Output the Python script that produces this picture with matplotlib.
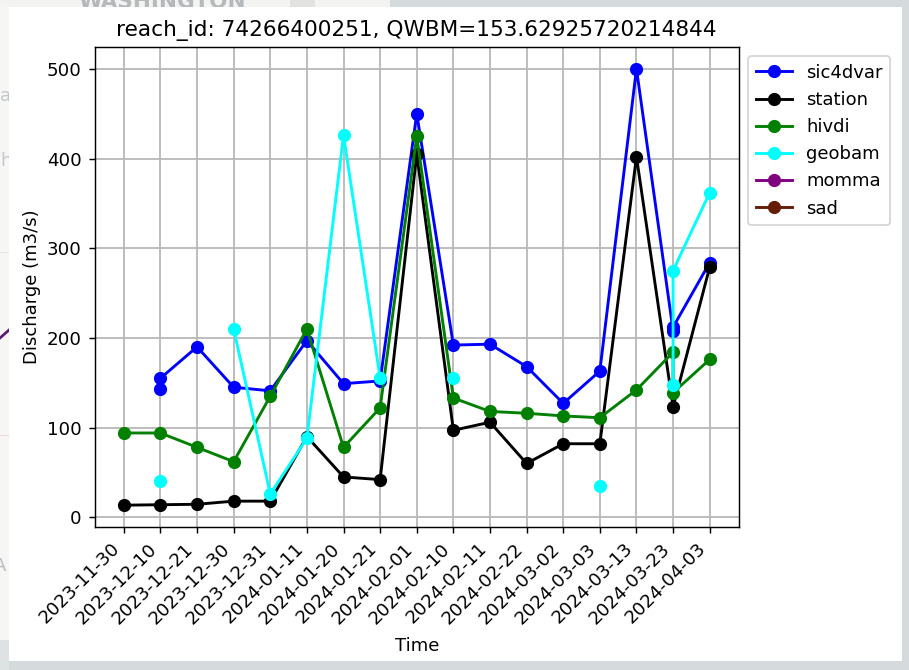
import matplotlib
matplotlib.use("Agg")
import matplotlib.pyplot as plt
from matplotlib.lines import Line2D
from matplotlib.patches import Rectangle
import numpy as np

dates = ["2023-11-30", "2023-12-10", "2023-12-21", "2023-12-30", "2023-12-31", "2024-01-11",
         "2024-01-20", "2024-01-21", "2024-02-01", "2024-02-10", "2024-02-11", "2024-02-22",
         "2024-03-02", "2024-03-03", "2024-03-13", "2024-03-23", "2024-04-03"]

# repeated index = two passes falling on the same tick
sic4dvar_idx = [1, 1, 2, 3, 4, 5, 6, 7, 8, 9, 10, 11, 12, 13, 14, 15, 15, 16]
sic4dvar_q = [143, 155, 190, 145, 141, 197, 149, 152, 450, 192, 193, 168, 127, 163, 500, 208, 212, 284]

station_idx = list(range(17))
station_q = [13.5, 14, 14.5, 18, 18, 90, 45, 42, 405, 97, 106, 60, 82, 82, 402, 123, 279]

hivdi_idx = [0, 1, 2, 3, 4, 5, 6, 7, 8, 9, 10, 11, 12, 13, 14, 15, 15, 16]
hivdi_q = [94, 94, 78, 62, 135, 210, 78, 122, 425, 133, 118, 116, 113, 111, 142, 184, 139, 176]

# nan = gap in the record
geobam_idx = [1, 2, 3, 4, 5, 6, 7, 8, 9, 10, 13, 14, 15, 15, 16]
geobam_q = [40, np.nan, 210, 26, 88, 426, 155, np.nan, 155, np.nan, 35, np.nan, 148, 275, 362]

W, H = 909, 670
DPI = 130
LINE = {"marker": "o", "markersize": 6.3, "linewidth": 1.6}


def frac_box(x0, y0, x1, y1):
    # pixel box (origin top left) -> figure fractions
    return x0 / W, 1 - y1 / H, (x1 - x0) / W, (y1 - y0) / H


def backdrop_box(fig, x0, y0, x1, y1, color, zorder=-4):
    x, y, w, h = frac_box(x0, y0, x1, y1)
    fig.add_artist(Rectangle((x, y), w, h, facecolor=color, linewidth=0,
                             transform=fig.transFigure, zorder=zorder))


def draw_backdrop(fig):
    # bits of the map behind the plot, only the margins show
    backdrop_box(fig, 0, 0, 9, 640, "#f6f6f5")
    backdrop_box(fig, 0, 640, 9, 670, "#dfe2e3")
    backdrop_box(fig, 0, 0, 390, 7, "#f3f3f2")
    backdrop_box(fig, 290, 0, 315, 7, "#e2e2e1")
    backdrop_box(fig, 0, 252, 9, 253, "#e6e6e6")
    backdrop_box(fig, 0, 435, 9, 436, "#ecd9dc")
    fig.add_artist(Line2D([0, 9 / W], [1 - 338 / H, 1 - 330 / H], color="#5b1a6e", lw=1.5,
                          transform=fig.transFigure, zorder=-3))
    fig.text(78 / W, 1 - 8 / H, "WASHINGTON", color="#b5b9bc", fontsize=11.9, fontweight="bold",
             va="baseline", zorder=-3)
    fig.text(0, 1 - 101 / H, "a", color="#c3c8cb", fontsize=10, zorder=-3)
    fig.text(0, 1 - 166 / H, "h", color="#c3c8cb", fontsize=10, zorder=-3)
    fig.text(0, 1 - 571 / H, "A", color="#b9bdc0", fontsize=10, ha="center", zorder=-3)
    backdrop_box(fig, 9, 7, 902, 661, "white", zorder=-1)


def main():
    fig = plt.figure(figsize=(W / DPI, H / DPI), dpi=DPI, facecolor="#d5dadd")
    draw_backdrop(fig)
    ax = fig.add_axes(frac_box(94.5, 47, 739, 527))

    ax.plot(sic4dvar_idx, sic4dvar_q, color="blue", label="sic4dvar", **LINE)
    ax.plot(station_idx, station_q, color="black", label="station", **LINE)
    ax.plot(hivdi_idx, hivdi_q, color="green", label="hivdi", **LINE)
    ax.plot(geobam_idx, geobam_q, color="cyan", label="geobam", **LINE)
    # no data for these two, they only show up in the legend
    ax.plot([], [], color="purple", label="momma", **LINE)
    ax.plot([], [], color="#651d06", label="sad", **LINE)

    ax.set_xticks(range(len(dates)), dates, rotation=45, ha="right", fontsize=10.15)
    ax.set_xlim(-0.8, 16.8)
    ax.tick_params(axis="y", labelsize=10.15)
    ax.grid(True, color="#b8b8b8", linewidth=1.0)
    ax.set_xlabel("Time", labelpad=5)
    ax.set_ylabel("Discharge (m3/s)", labelpad=3)
    ax.set_title("reach_id: 74266400251, QWBM=153.62925720214844")
    ax.legend(loc="upper left", bbox_to_anchor=(1, 1), labelspacing=0.51, borderpad=0.42)
    fig.savefig("out.png", dpi=DPI, facecolor=fig.get_facecolor())


if __name__ == "__main__":
    main()
